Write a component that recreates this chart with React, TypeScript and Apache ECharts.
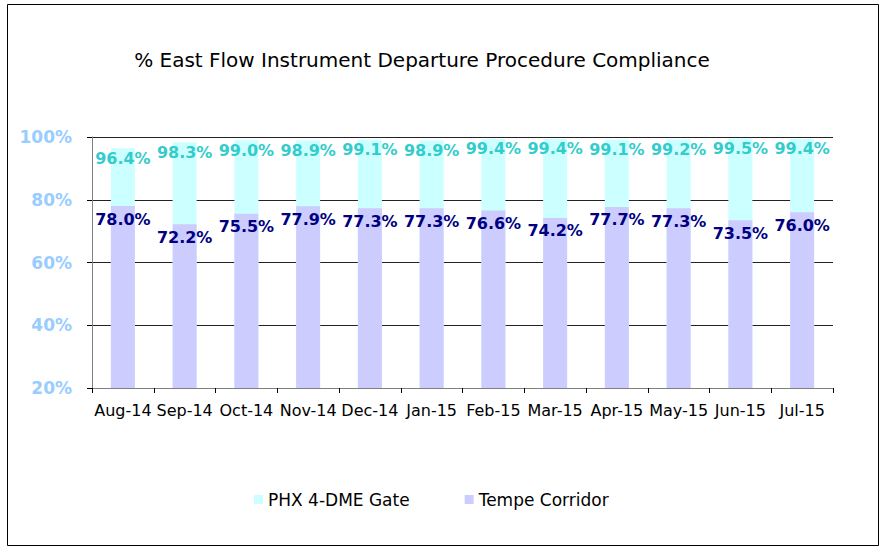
import React, { useEffect, useRef } from "react";
import * as echarts from "echarts";

const categories = ["Aug-14", "Sep-14", "Oct-14", "Nov-14", "Dec-14", "Jan-15", "Feb-15", "Mar-15", "Apr-15", "May-15", "Jun-15", "Jul-15"];
const phxGate = [96.4, 98.3, 99.0, 98.9, 99.1, 98.9, 99.4, 99.4, 99.1, 99.2, 99.5, 99.4];
const tempeCorridor = [78.0, 72.2, 75.5, 77.9, 77.3, 77.3, 76.6, 74.2, 77.7, 77.3, 73.5, 76.0];
const yTicks = { min: 20, max: 100, interval: 20 };
const titleText = "% East Flow Instrument Departure Procedure Compliance";
const seriesNames = ["PHX 4-DME Gate", "Tempe Corridor"];

const FONT = "'DejaVu Sans', 'Liberation Sans', Arial, sans-serif";

export default function App() {
  const ref = useRef<HTMLDivElement>(null);
  useEffect(() => {
    if (!ref.current) return;
    const chart = echarts.init(ref.current, null, { renderer: "svg" });
    chart.setOption({
      animation: false,
      backgroundColor: "#ffffff",
      textStyle: { fontFamily: FONT },
      title: {
        text: titleText,
        left: 417,
        textAlign: "center",
        top: 45,
        textStyle: { fontFamily: FONT, fontSize: 20, fontWeight: "normal", color: "#000" },
      },
      legend: {
        data: seriesNames,
        left: 249,
        top: 486,
        itemWidth: 9,
        itemHeight: 9,
        itemGap: 55,
        icon: "rect",
        textStyle: { fontFamily: FONT, fontSize: 17, color: "#000" },
      },
      grid: { left: 92, right: 49, top: 137, bottom: 162, containLabel: false },
      xAxis: {
        type: "category",
        data: categories,
        axisLine: { lineStyle: { color: "#808080", width: 1 } },
        axisTick: { show: true, length: 5, alignWithLabel: false, lineStyle: { color: "#000" } },
        axisLabel: { fontFamily: FONT, fontSize: 16, color: "#000", margin: 14, interval: 0 },
      },
      yAxis: {
        type: "value",
        min: yTicks.min,
        max: yTicks.max,
        interval: yTicks.interval,
        axisLine: { show: true, lineStyle: { color: "#808080", width: 1 } },
        axisTick: { show: true, length: 5, lineStyle: { color: "#000" } },
        axisLabel: {
          formatter: "{value}%",
          fontFamily: FONT,
          fontSize: 17,
          fontWeight: "bold",
          color: "#99CCFF",
          margin: 20,
        },
        splitLine: { show: true, lineStyle: { color: "#222", width: 1 } },
      },
      series: [
        {
          name: seriesNames[0],
          type: "bar",
          data: phxGate,
          barWidth: 24,
          barGap: "-100%",
          itemStyle: { color: "#CCFFFF" },
          z: 2,
          label: {
            show: true,
            position: "insideTop",
            distance: 2,
            formatter: (p: any) => p.value.toFixed(1) + "%",
            fontFamily: FONT,
            fontSize: 16,
            fontWeight: "bold",
            color: "#33CCCC",
          },
        },
        {
          name: seriesNames[1],
          type: "bar",
          data: tempeCorridor,
          barWidth: 24,
          barGap: "-100%",
          itemStyle: { color: "#CCCCFF" },
          z: 3,
          label: {
            show: true,
            position: "insideTop",
            distance: 5,
            formatter: (p: any) => p.value.toFixed(1) + "%",
            fontFamily: FONT,
            fontSize: 16,
            fontWeight: "bold",
            color: "#000080",
          },
        },
      ],
      graphic: [
        {
          type: "rect",
          shape: { x: 7.5, y: 4.5, width: 871, height: 541 },
          style: { fill: "none", stroke: "#000", lineWidth: 1 },
          silent: true,
          z: 100,
        },
      ],
    });
    return () => chart.dispose();
  }, []);
  return (
    <div
      ref={ref}
      style={{ position: "fixed", left: 0, top: 0, width: 882, height: 550 }}
    />
  );
}
